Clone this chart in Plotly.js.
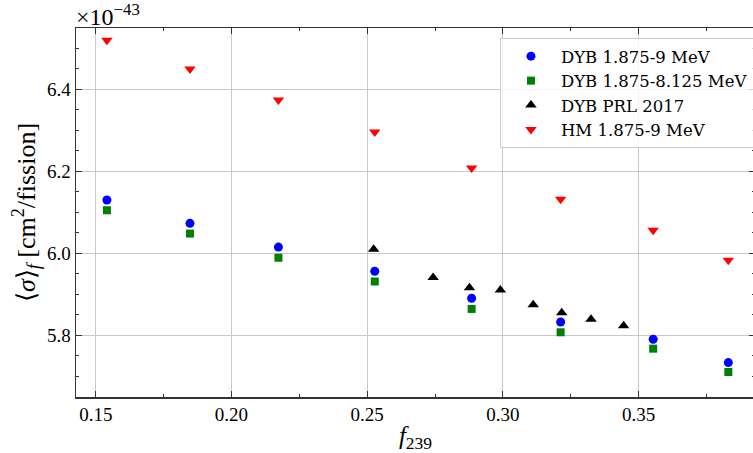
<!DOCTYPE html>
<html>
<head>
<meta charset="utf-8">
<script src="https://cdn.plot.ly/plotly-3.0.1.min.js"></script>
<style>
html,body{margin:0;padding:0;overflow:hidden;background:#fff;}
#chart{width:760px;height:453px;}
</style>
</head>
<body>
<div id="chart"></div>
<script>
// Fission fractions f239
const f239 = [0.1541, 0.1847, 0.2173, 0.2528, 0.2885, 0.3213, 0.3554, 0.3831];
// Cross sections (units of 1e-43 cm^2/fission)
const dybFull = [6.130, 6.073, 6.015, 5.956, 5.890, 5.832, 5.790, 5.733];
const dybCut  = [6.105, 6.048, 5.989, 5.931, 5.864, 5.807, 5.767, 5.710];
const hm      = [6.520, 6.450, 6.374, 6.296, 6.208, 6.132, 6.056, 5.983];
// DYB PRL 2017
const prlF    = [0.2524, 0.2743, 0.2877, 0.2991, 0.3112, 0.3217, 0.3325, 0.3445];
const prlSig  = [6.010, 5.941, 5.916, 5.910, 5.874, 5.855, 5.839, 5.823];

const xTicks = [0.15, 0.20, 0.25, 0.30, 0.35];
const xTickText = ['0.15', '0.20', '0.25', '0.30', '0.35'];
const yTicks = [5.8, 6.0, 6.2, 6.4];
const yTickText = ['5.8', '6.0', '6.2', '6.4'];

const FONT = 'Liberation Serif';
const LFONT = 'DejaVu Serif';

const traces = [
  {x: f239, y: dybFull, mode: 'markers', type: 'scatter', name: 'DYB 1.875-9 MeV',
   marker: {symbol: 'circle', color: '#0000ff', size: 9}},
  {x: f239, y: dybCut, mode: 'markers', type: 'scatter', name: 'DYB 1.875-8.125 MeV',
   marker: {symbol: 'square', color: '#008000', size: 8}},
  {x: prlF, y: prlSig, mode: 'markers', type: 'scatter', name: 'DYB PRL 2017',
   marker: {symbol: 'triangle-up', color: '#000000', size: 10}},
  {x: f239, y: hm, mode: 'markers', type: 'scatter', name: 'HM 1.875-9 MeV',
   marker: {symbol: 'triangle-down', color: '#ff0000', size: 10}}
];

const layout = {
  width: 760, height: 453,
  margin: {l: 76, r: 5, t: 28, b: 56},
  paper_bgcolor: '#ffffff', plot_bgcolor: '#ffffff',
  font: {family: FONT, size: 18, color: '#000'},
  showlegend: true,
  legend: {
    x: 0.6244, y: 0.973, xanchor: 'left', yanchor: 'top',
    bgcolor: 'rgba(255,255,255,0.8)', bordercolor: '#cccccc', borderwidth: 1,
    font: {family: LFONT, size: 16.5, color: '#000'},
    itemwidth: 50, tracegroupgap: 0
  },
  xaxis: {
    range: [0.1427, 0.39293],
    tickvals: xTicks, ticktext: xTickText,
    ticks: 'inside', ticklen: 6, tickwidth: 1, tickcolor: '#333',
    showline: true, linecolor: '#333', linewidth: 1.5, mirror: 'allticks',
    showgrid: true, gridcolor: '#c8c8c8', gridwidth: 1,
    zeroline: false,
    minor: {dtick: 0.025, tick0: 0, ticks: 'inside', ticklen: 3, tickcolor: '#333', showgrid: false},
    tickfont: {family: FONT, size: 19, color: '#000'},
    title: {text: '<i>f</i><sub>239</sub>', font: {family: FONT, size: 25, color: '#000'}, standoff: 2}
  },
  yaxis: {
    range: [5.649, 6.55],
    tickvals: yTicks, ticktext: yTickText,
    ticks: 'inside', ticklen: 6, tickwidth: 1, tickcolor: '#333',
    showline: true, linecolor: '#333', linewidth: 1.5, mirror: 'allticks',
    showgrid: true, gridcolor: '#c8c8c8', gridwidth: 1,
    zeroline: false,
    minor: {dtick: 0.05, tick0: 0, ticks: 'inside', ticklen: 3, tickcolor: '#333', showgrid: false},
    tickfont: {family: FONT, size: 19, color: '#000'},
    title: {text: '⟨<i>σ</i>⟩<sub><i>f</i></sub> [cm<sup>2</sup>/fission]', font: {family: FONT, size: 26, color: '#000'}, standoff: 4}
  },
  annotations: [{
    xref: 'paper', yref: 'paper', x: 0, y: 1, xanchor: 'left', yanchor: 'bottom',
    text: '×10<sup>−43</sup>', showarrow: false, yshift: -4, xshift: -2,
    font: {family: FONT, size: 24, color: '#000'}
  }]
};

Plotly.newPlot('chart', traces, layout, {displayModeBar: false, staticPlot: true});
</script>
</body>
</html>
